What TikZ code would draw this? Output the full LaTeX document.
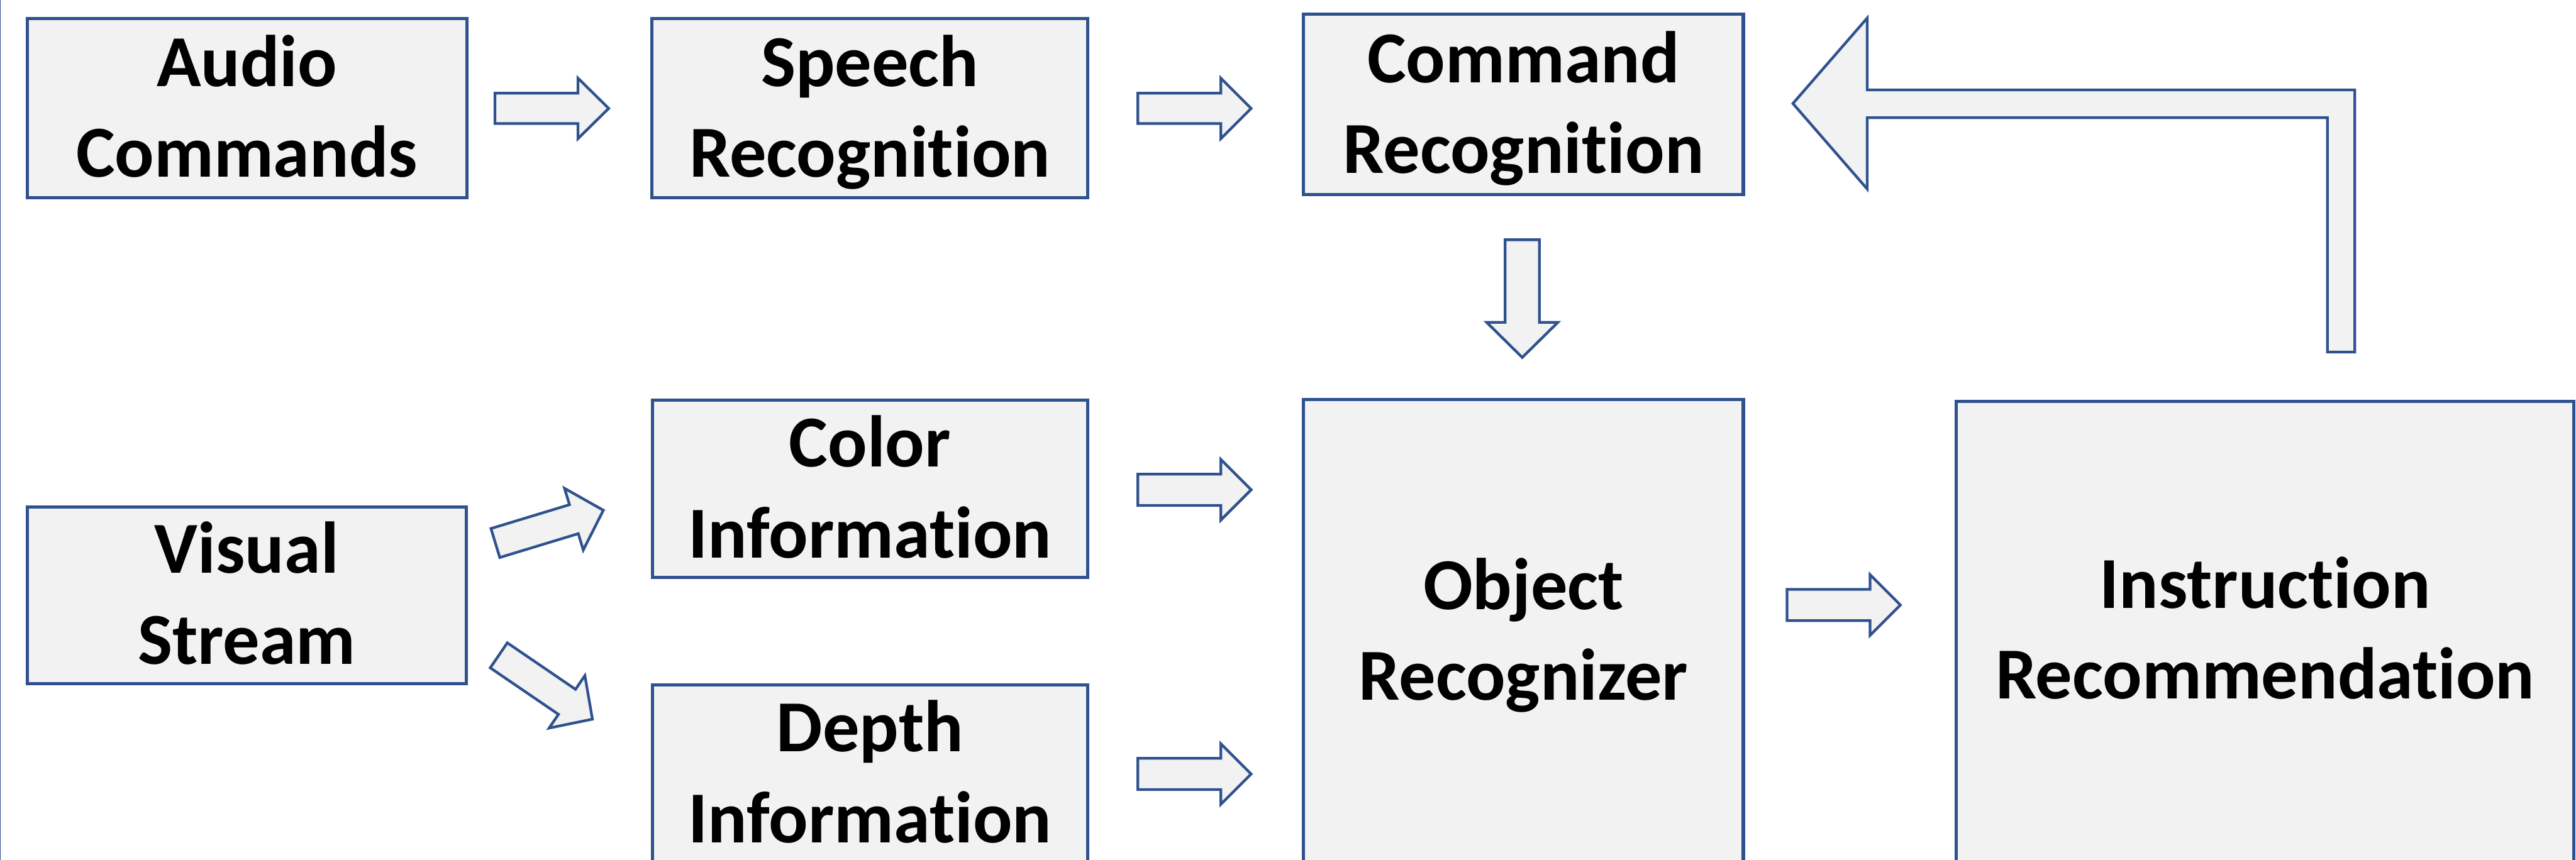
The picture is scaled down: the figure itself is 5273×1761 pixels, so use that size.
\documentclass[tikz,border=0pt]{standalone}
\usepackage{fontspec}
\setmainfont{Carlito}[Ligatures=NoCommon]
\definecolor{boxblue}{HTML}{2F528F}
\definecolor{boxfill}{HTML}{F2F2F2}
% two centred lines with fixed outer height/depth so every box centres alike;
% the optional argument adds depth, which lifts the text inside a taller box
\newcommand\twolines[3][0pt]{\rule{0pt}{13pt}#2\\#3\rule[\dimexpr-3.4pt-#1\relax]{0pt}{0pt}}
% block arrow: tail at (#1,#2), turned by #3 degrees, length #4, head length #5,
% shaft half width #6, head half width #7 (all in px units)
\newcommand\blockarrow[7]{%
  \draw[arrowshape, shift={(#1,#2)}, rotate=#3]
    (0,-#6) -- ({#4-#5},-#6) -- ({#4-#5},-#7) -- (#4,0) --
    ({#4-#5},#7) -- ({#4-#5},#6) -- (0,#6) -- cycle;}
\tikzset{
  stage/.style={draw=boxblue, fill=boxfill, line width=0.65pt, rectangle,
    align=center, inner sep=0pt, font=\fontsize{15}{18.6}\selectfont\bfseries},
  arrowshape/.style={draw=boxblue, fill=boxfill, line width=0.55pt, line join=miter},
}
\begin{document}
\begin{tikzpicture}[x=0.1pt, y=-0.1pt]
\useasboundingbox (0,0) rectangle (5273,1761);
\fill[white] (0,0) rectangle (5273,1761);
\draw[boxblue, line width=0.15pt] (0.75,0) -- (0.75,1761);

% processing stages
\node[stage, minimum width=90pt, minimum height=36.7pt] (audio) at (505.5,222) {\twolines{Audio}{Commands}};
\node[stage, minimum width=89.2pt, minimum height=36.7pt] (speech) at (1780.5,222) {\twolines{Speech}{Recognition}};
\node[stage, minimum width=90pt, minimum height=36.9pt] (command) at (3118.5,214) {\twolines{Command}{Recognition}};
\node[stage, minimum width=89.8pt, minimum height=36.1pt] (visual) at (505,1219) {\twolines{Visual}{Stream}};
\node[stage, minimum width=89.1pt, minimum height=36.4pt] (color) at (1781,1001) {\twolines{Color}{Information}};
\node[stage, minimum width=89.1pt, minimum height=39.8pt] (depth) at (1781,1601.5) {\twolines[3.4pt]{Depth}{Information}};
\node[stage, minimum width=90pt, minimum height=98.2pt] (object) at (3118.5,1309) {\twolines[3.2pt]{Object}{Recognizer}};
\node[stage, minimum width=126.4pt, minimum height=97.85pt] (instr) at (4636.5,1310.75) {\twolines[4.15pt]{Instruction}{Recommendation}};

% block arrows between the stages
\blockarrow{1013}{222}{0}{233}{63}{31}{62}
\blockarrow{2329}{222}{0}{232}{62}{31}{62}
\blockarrow{2329}{1003}{0}{232}{62}{32}{62}
\blockarrow{2329}{1585}{0}{232}{62}{32}{62}
\blockarrow{3658}{1239}{0}{232}{62}{32}{62}
\blockarrow{3116}{491}{-90}{241}{72}{35}{73}
\blockarrow{1014}{1112}{16.9}{231}{63}{31}{66}
\blockarrow{1021}{1342}{-34.3}{232}{63}{31}{65}

% feedback arrow from the recommendation back to command recognition
\draw[arrowshape] (3670,212) -- (3822,37) -- (3822,184) -- (4820,184) --
  (4820,721) -- (4764,721) -- (4764,241) -- (3822,241) -- (3822,387) -- cycle;
\end{tikzpicture}
\end{document}
